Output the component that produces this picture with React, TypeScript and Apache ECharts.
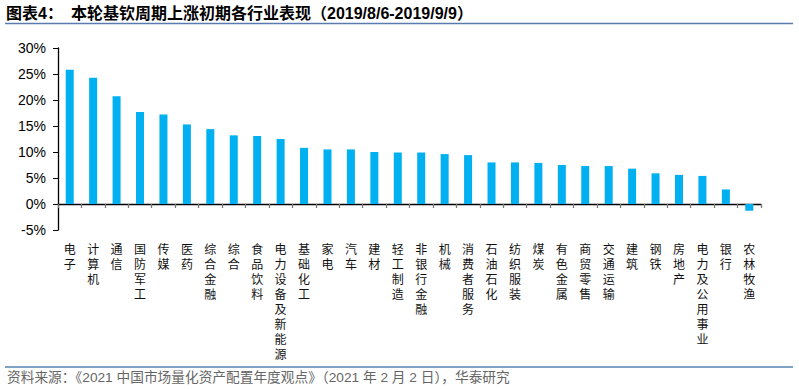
import React, { useEffect, useRef } from "react";
import * as echarts from "echarts";

const categories: string[] = [
  "电子", "计算机", "通信", "国防军工", "传媒", "医药", "综合金融", "综合",
  "食品饮料", "电力设备及新能源", "基础化工", "家电", "汽车", "建材", "轻工制造",
  "非银行金融", "机械", "消费者服务", "石油石化", "纺织服装", "煤炭", "有色金属",
  "商贸零售", "交通运输", "建筑", "钢铁", "房地产", "电力及公用事业", "银行", "农林牧渔",
];
// values in percent
const values: number[] = [
  25.8, 24.3, 20.7, 17.7, 17.2, 15.3, 14.4, 13.2,
  13.1, 12.5, 10.8, 10.5, 10.5, 10.0, 9.9,
  9.9, 9.6, 9.4, 8.0, 8.0, 7.9, 7.5,
  7.3, 7.3, 6.8, 5.9, 5.6, 5.4, 2.8, -1.3,
];
const yTicks = { min: -5, max: 30, interval: 5 };

const titlePrefix = "图表4：";
const titleText = "本轮基钦周期上涨初期各行业表现（2019/8/6-2019/9/9）";
const sourceText = "资料来源：《2021 中国市场量化资产配置年度观点》（2021 年 2 月 2 日），华泰研究";

export default function App() {
  const ref = useRef<HTMLDivElement>(null);
  useEffect(() => {
    if (!ref.current) return;
    const chart = echarts.init(ref.current, undefined, { renderer: "svg" });
    chart.setOption({
      animation: false,
      backgroundColor: "#ffffff",
      grid: { left: 58, right: 38, top: 48, bottom: 159, containLabel: false },
      xAxis: {
        type: "category",
        data: categories,
        axisLine: { show: true, onZero: true, lineStyle: { color: "#000", width: 1.3 } },
        axisTick: { show: true, length: 4, lineStyle: { color: "#777", width: 1.3 } },
        axisLabel: {
          interval: 0,
          margin: 11,
          fontSize: 12,
          lineHeight: 15,
          color: "#111",
          fontFamily: "Noto Sans CJK SC",
          formatter: (v: string) => v.split("").join("\n"),
        },
        splitLine: { show: false },
      },
      yAxis: {
        type: "value",
        min: yTicks.min,
        max: yTicks.max,
        interval: yTicks.interval,
        axisLine: { show: true, lineStyle: { color: "#000", width: 1.3 } },
        axisTick: { show: true, length: 5, lineStyle: { color: "#000" } },
        axisLabel: {
          formatter: "{value}%",
          fontSize: 14,
          margin: 12,
          color: "#000",
          fontFamily: "Liberation Sans",
        },
        splitLine: { show: false },
      },
      series: [
        {
          type: "bar",
          data: values,
          barWidth: 8,
          itemStyle: { color: "#00B0F0" },
        },
      ],
      graphic: [
        {
          type: "text",
          left: 6,
          top: 5,
          style: {
            text: titlePrefix,
            fontSize: 16,
            fontWeight: "bold",
            fill: "#000",
            fontFamily: "Liberation Sans, Noto Sans CJK SC",
          },
        },
        {
          type: "text",
          left: 71,
          top: 5,
          style: {
            text: titleText,
            fontSize: 16,
            fontWeight: "bold",
            fill: "#000",
            fontFamily: "Liberation Sans, Noto Sans CJK SC",
          },
        },
        {
          type: "line",
          shape: { x1: 5, y1: 23.5, x2: 793, y2: 23.5 },
          style: { stroke: "#5B7BAE", lineWidth: 1.5 },
        },
        {
          type: "line",
          shape: { x1: 5, y1: 367, x2: 793, y2: 367 },
          style: { stroke: "#5582B0", lineWidth: 1.5 },
        },
        {
          type: "text",
          left: 7,
          top: 371,
          style: {
            text: sourceText,
            fontSize: 13.7,
            fill: "#666",
            fontFamily: "Liberation Sans, Noto Sans CJK SC",
          },
        },
      ],
    });
    return () => chart.dispose();
  }, []);
  return (
    <div
      ref={ref}
      style={{ position: "fixed", left: 0, top: 0, width: 799, height: 389 }}
    />
  );
}
